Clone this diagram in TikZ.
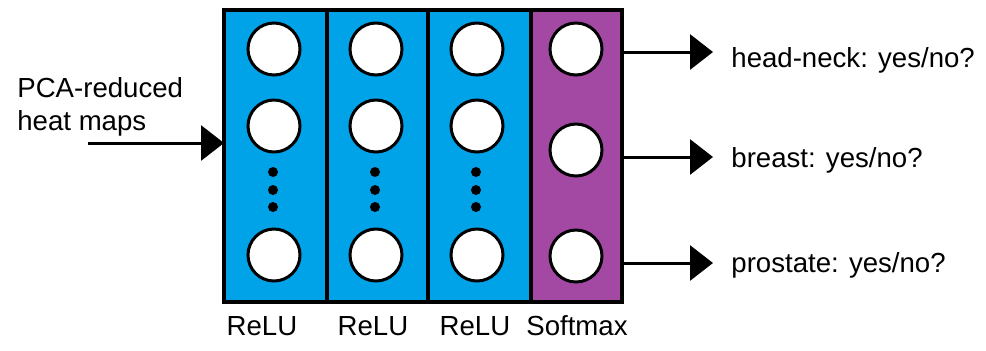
\documentclass[tikz,border=0pt]{standalone}
\usepackage{fontspec}
\setmainfont{Liberation Sans}
\usepackage{tikz}
\usetikzlibrary{arrows.meta}

\definecolor{relublue}{HTML}{00A2E8}
\definecolor{softpurple}{HTML}{A349A4}

\tikzset{
    layer/.style={draw=black, line width=1.6pt},
    neuron/.style={circle, draw=black, fill=white, line width=1.5pt, minimum size=26pt, inner sep=0pt},
    flow/.style={line width=1.5pt, -{Triangle[length=11.5pt, width=17.5pt]}},
    txt/.style={font=\fontsize{13.8}{16.5}\selectfont, inner sep=0pt}
}

\begin{document}
\begin{tikzpicture}[x=0.5pt,y=-0.5pt]
    \useasboundingbox (0,0) rectangle (986,350);
    \filldraw[layer, fill=relublue] (224,10) rectangle (327,302);
    \filldraw[layer, fill=relublue] (327,10) rectangle (428,302);
    \filldraw[layer, fill=relublue] (428,10) rectangle (531,302);
    \filldraw[layer, fill=softpurple] (531,10) rectangle (622,302);
    \foreach \c/\x in {1/274,2/376,3/477} {
        \node[neuron] (n\c a) at (\x,49) {};
        \node[neuron] (n\c b) at (\x,126) {};
        \node[neuron] (n\c c) at (\x,255) {};
        \foreach \y in {172,190,207}
            \fill (\x-1,\y) circle (2.5pt);
    }
    \node[neuron] (s1) at (576,49) {};
    \node[neuron] (s2) at (576,150) {};
    \node[neuron] (s3) at (576,256) {};

    \coordinate [] (inp) at (88,143);
    \coordinate [] (L1) at (224,143);
    \node[txt, anchor=north west, align=left] (pca) at (17,77) {PCA-reduced\\heat maps};
    \draw[flow] (inp) -- (L1);

    \coordinate [] (o1) at (622,52);
    \coordinate [] (o2) at (622,157);
    \coordinate [] (o3) at (622,263);
    \coordinate [] (t1) at (713,52);
    \coordinate [] (t2) at (713,157);
    \coordinate [] (t3) at (713,263);
    \draw[flow] (o1) -- (t1);
    \draw[flow] (o2) -- (t2);
    \draw[flow] (o3) -- (t3);
    \node[txt, anchor=base west] (hn) at (731,67) {head-neck: yes/no?};
    \node[txt, anchor=base west] (br) at (731,167) {breast: yes/no?};
    \node[txt, anchor=base west] (pr) at (731,272) {prostate: yes/no?};

    \node[txt, anchor=base] (r1) at (262,335) {ReLU};
    \node[txt, anchor=base] (r2) at (373,335) {ReLU};
    \node[txt, anchor=base] (r3) at (475,335) {ReLU};
    \node[txt, anchor=base] (sm) at (577,335) {Softmax};
\end{tikzpicture}
\end{document}
